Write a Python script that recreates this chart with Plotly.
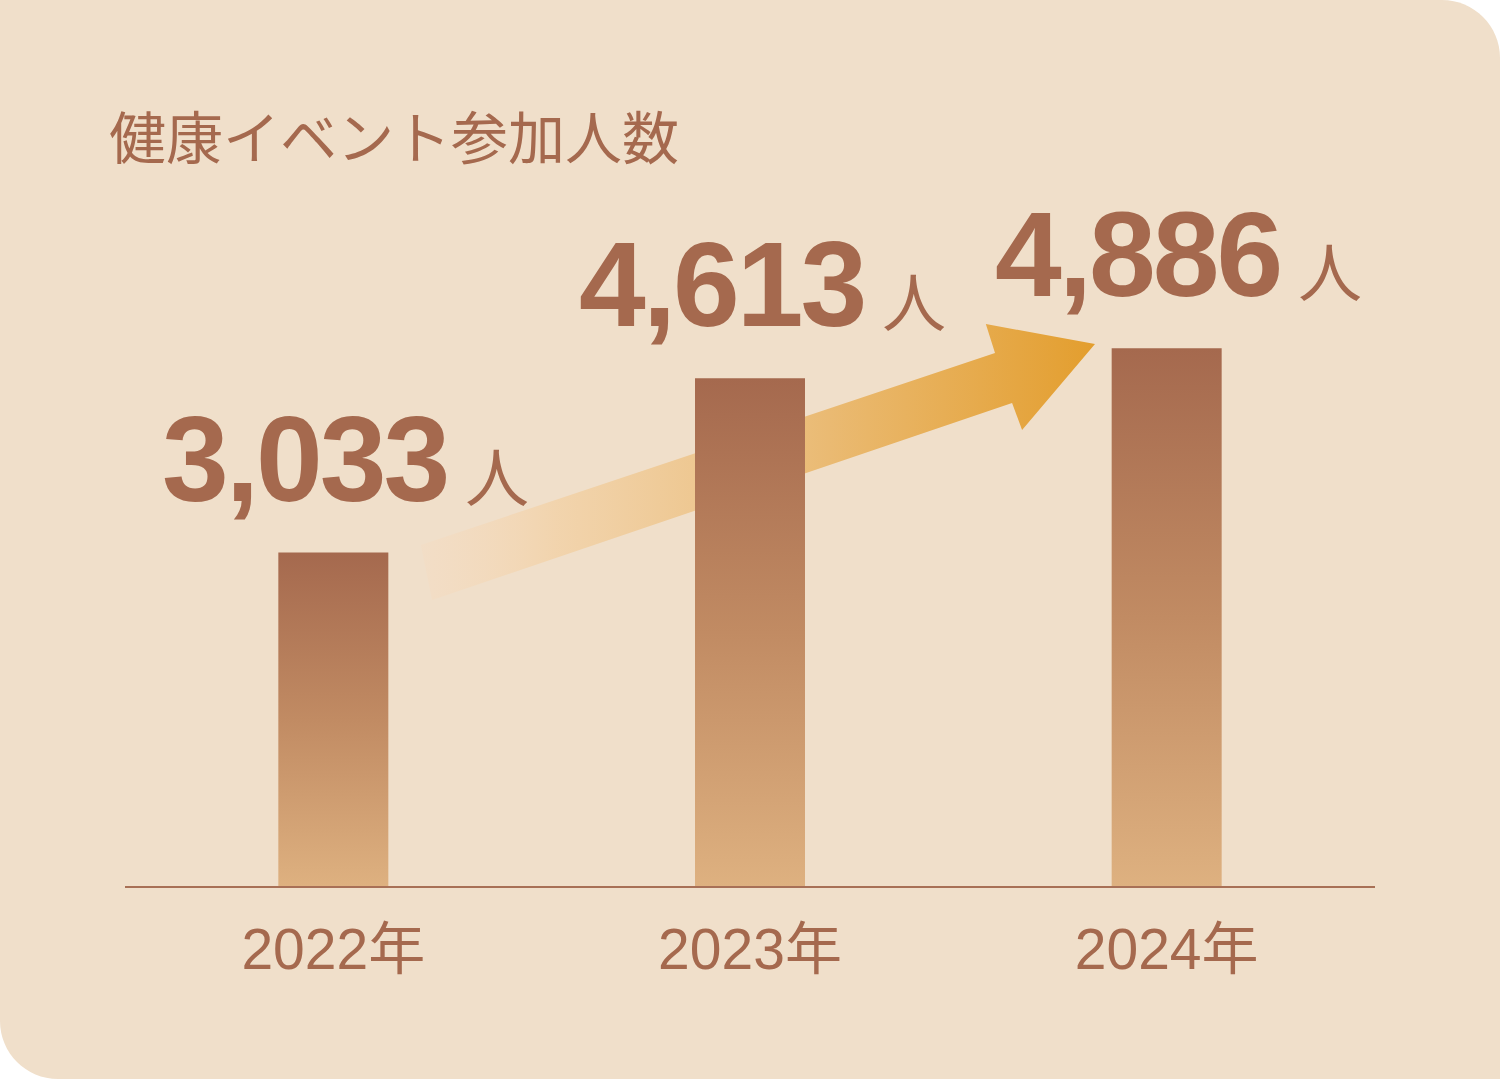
import plotly.graph_objects as go


YEARS = ["2022年", "2023年", "2024年"]
PARTICIPANTS = [3033, 4613, 4886]

TITLE = "健康イベント参加人数"
UNIT = "人"

# arrow outline (x in category units, y in participant units)
ARROW_X = [0.210, 1.588, 1.566, 1.828, 1.653, 1.629, 0.237]
ARROW_Y = [3102, 4843, 5106, 4925, 4145, 4390, 2603]

BROWN = "#A5694E"
BG = "#F0DFCA"


def main():

    fig = go.Figure()

    fig.add_trace(
        go.Scatter(x=ARROW_X + ARROW_X[:1],
                   y=ARROW_Y + ARROW_Y[:1],
                   mode="lines",
                   line_width=0,
                   fill="toself",
                   fillgradient=dict(
                       type="horizontal",
                       colorscale=[[0, "rgba(246,218,190,0.3)"],
                                   [0.2, "rgba(242,210,168,0.85)"],
                                   [0.55, "#EBBE7C"],
                                   [1, "#E39E2E"]]),
                   hoverinfo="skip"))

    half = 0.132
    for i, v in enumerate(PARTICIPANTS):
        fig.add_trace(
            go.Scatter(x=[i - half, i - half, i + half, i + half, i - half],
                       y=[0, v, v, 0, 0],
                       mode="lines",
                       line_width=0,
                       fill="toself",
                       fillgradient=dict(
                           type="vertical",
                           colorscale=[[0, "#DEB180"],
                                       [0.5, "#C18B63"],
                                       [1, BROWN]]),
                       hoverinfo="skip"))

    labels = [
        dict(x=i, y=v, xref="x", yref="y",
             xanchor="center", yanchor="bottom",
             xshift=12, yshift=25, showarrow=False,
             text=(f"<b><span style='letter-spacing:-3px'>{v:,}</span></b>"
                   f"<span style='font-size:64px'> {UNIT}</span>"),
             font=dict(family="Liberation Sans, Noto Sans CJK JP",
                       size=120, color=BROWN))
        for i, v in enumerate(PARTICIPANTS)
    ]

    k = 0.5523
    rx = 58 / 1500
    ry = 58 / 1079
    bg_path = (f"M 0,1 L {1 - rx},1 "
               f"C {1 - rx + k * rx},1 1,{1 - ry + k * ry} 1,{1 - ry} "
               f"L 1,0 L {rx},0 "
               f"C {rx - k * rx},0 0,{ry - k * ry} 0,{ry} Z")

    fig.update_xaxes(
        domain=[125 / 1500, 1375 / 1500],
        range=[-0.5, 2.5],
        anchor="free",
        position=192 / 1079,
        showgrid=False,
        zeroline=False,
        showline=True,
        linecolor="#A87056",
        linewidth=2,
        ticks="",
        tickvals=list(range(len(YEARS))),
        ticktext=YEARS,
        ticklabelstandoff=13,
        tickfont=dict(family="Liberation Sans, Noto Sans CJK JP",
                      size=57, color=BROWN),
        fixedrange=True
    )

    fig.update_yaxes(
        range=[-192 * 9.0695, 887 * 9.0695],
        visible=False,
        fixedrange=True
    )

    fig.update_layout(
        showlegend=False,
        width=1500,
        height=1079,
        margin=dict(l=0, r=0, t=0, b=0),
        paper_bgcolor="white",
        plot_bgcolor="rgba(0,0,0,0)",
        shapes=[dict(type="path", xref="paper", yref="paper",
                     path=bg_path, fillcolor=BG, line_width=0,
                     layer="below")],
        annotations=labels + [
            dict(x=107 / 1500, y=1 - 134 / 1079,
                 xref="paper", yref="paper",
                 xanchor="left", yanchor="middle",
                 showarrow=False, text=TITLE,
                 font=dict(family="Noto Sans CJK JP", size=57, color=BROWN))
        ]
    )

    fig.write_html("out.html",
                   config={"displayModeBar": False},
                   post_script="document.body.style.margin='0';")


if __name__ == "__main__":

    main()
